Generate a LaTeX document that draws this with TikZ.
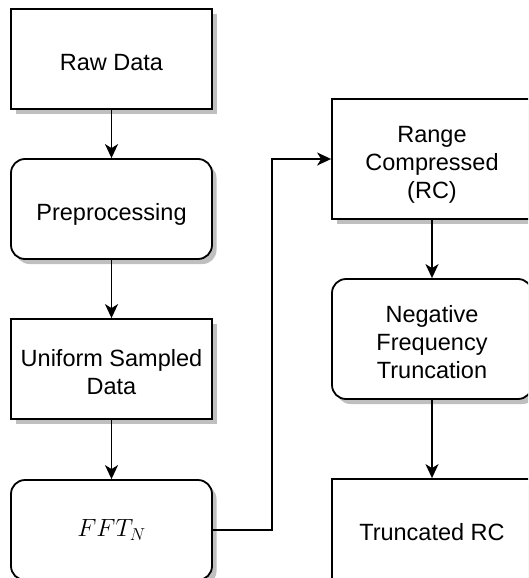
\documentclass[tikz,border=0pt]{standalone}
\usepackage{fontspec}
\setmainfont{Liberation Sans}
\usetikzlibrary{arrows.meta,shadows}
\newcommand\boxtext[1]{\raisebox{-5.5pt}[\height][\depth]{\begin{tabular}{@{}c@{}}#1\end{tabular}}}
\begin{document}
\begin{tikzpicture}[x=1pt,y=-1pt,
  box/.style={draw=black, line width=1.8pt, fill=white, align=center,
    inner sep=2pt, font=\fontsize{23.5}{28}\selectfont,
    drop shadow={shadow xshift=4.5pt, shadow yshift=-5pt, fill=black!25, opacity=1}},
  sq/.style={box, rectangle},
  rnd/.style={box, rectangle, rounded corners=14pt},
  conn/.style={draw=black, line width=1.8pt, -{Stealth[length=14pt,width=13pt,inset=4pt]}}]
\useasboundingbox (0,0) rectangle (528,578);
\clip (0,0) rectangle (528,578);
\node[sq, minimum width=201pt, minimum height=100pt] (raw) at (111.5,59) {\boxtext{Raw Data}};
\node[rnd, minimum width=201pt, minimum height=100pt] (pre) at (111.5,209) {\boxtext{Preprocessing}};
\node[sq, minimum width=201pt, minimum height=100pt] (uni) at (111.5,369) {\boxtext{Uniform Sampled\\Data}};
\node[rnd, minimum width=201pt, minimum height=100pt] (fft) at (111.5,530) {\fontsize{25.5}{30}\selectfont$FFT_N$};
\node[sq, minimum width=200pt, minimum height=120pt] (rc) at (432,159) {\boxtext{Range\\Compressed\\(RC)}};
\node[rnd, minimum width=200pt, minimum height=120pt] (neg) at (432,339) {\boxtext{Negative\\Frequency\\Truncation}};
\node[sq, minimum width=200pt, minimum height=100pt] (trc) at (432,529) {\boxtext{Truncated RC}};
\draw[conn] (raw) -- (pre);
\draw[conn] (pre) -- (uni);
\draw[conn] (uni) -- (fft);
\draw[conn] (fft.east) -- ++(59,0) |- (rc.west);
\draw[conn] (rc) -- (neg);
\draw[conn] (neg) -- (trc);
\end{tikzpicture}
\end{document}
